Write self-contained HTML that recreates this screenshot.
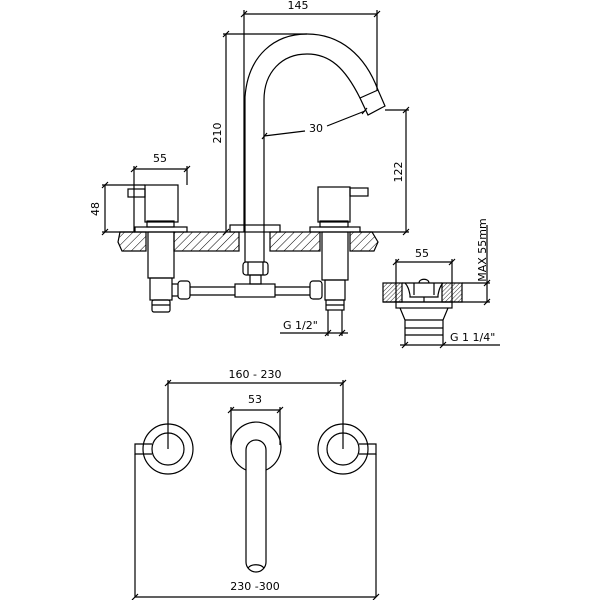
<!DOCTYPE html>
<html><head><style>
html,body{margin:0;padding:0;background:#fff;}
svg{display:block}
text{font-family:"DejaVu Sans","Liberation Sans",sans-serif;font-size:11px;fill:#000}
</style></head><body>
<svg width="600" height="600" viewBox="0 0 600 600" xmlns="http://www.w3.org/2000/svg">
<defs>
<pattern id="h" width="6" height="6" patternUnits="userSpaceOnUse" patternTransform="rotate(45)">
<line x1="0" y1="0" x2="0" y2="6" stroke="#000" stroke-width="1"/>
</pattern>
<pattern id="h2" width="3" height="3" patternUnits="userSpaceOnUse" patternTransform="rotate(45)">
<line x1="0" y1="0" x2="0" y2="3" stroke="#000" stroke-width="0.8"/>
</pattern>
</defs>
<g fill="none" stroke="#000" stroke-width="1.2">
<line x1="244" y1="14" x2="377" y2="14"/>
<line x1="244" y1="10" x2="244" y2="232"/>
<line x1="377" y1="10" x2="377" y2="90"/>
<line x1="226" y1="34" x2="226" y2="232"/>
<line x1="223" y1="34" x2="307" y2="34"/>
<path d="M245,232 L245,97 C248,55 275,34 307,34 C340,34 365,55 378,90"/>
<path d="M264,232 L264,100 C264,72 282,54 307,54 C330,54 345,68 360,98"/>
<path d="M360,98 L378,90 L385,106 L368,115 Z"/>
<line x1="264" y1="136" x2="305" y2="131"/>
<line x1="327" y1="126" x2="365" y2="111"/>
<line x1="385" y1="110" x2="409" y2="110"/>
<line x1="406" y1="110" x2="406" y2="232"/>
<line x1="360" y1="232" x2="409" y2="232"/>
<line x1="134" y1="169" x2="187" y2="169"/>
<line x1="134" y1="166" x2="134" y2="232"/>
<line x1="187" y1="166" x2="187" y2="185"/>
<rect x="145" y="185" width="33" height="37"/>
<rect x="128" y="189" width="17" height="8"/>
<rect x="147" y="221" width="27" height="6"/>
<rect x="135" y="227" width="52" height="5"/>
<line x1="105" y1="185" x2="105" y2="232"/>
<line x1="102" y1="185" x2="145" y2="185"/>
<line x1="102" y1="232" x2="135" y2="232"/>
<path d="M120,232 L146,232 L146,251 L122,251 L118,242 Z" fill="url(#h)"/>
<rect x="174" y="232" width="65" height="19" fill="url(#h)"/>
<rect x="270" y="232" width="50" height="19" fill="url(#h)"/>
<path d="M350,232 L372,232 L378,242 L374,251 L350,251 Z" fill="url(#h)"/>
<rect x="230" y="225" width="50" height="7"/>
<line x1="245" y1="232" x2="245" y2="262"/>
<line x1="264" y1="232" x2="264" y2="262"/>
<rect x="243" y="262" width="25" height="13" rx="3"/>
<line x1="248" y1="262" x2="248" y2="275"/><line x1="263" y1="262" x2="263" y2="275"/>
<rect x="250" y="275" width="11" height="9"/>
<rect x="235" y="284" width="40" height="13"/>
<line x1="190" y1="287" x2="235" y2="287"/><line x1="190" y1="295" x2="235" y2="295"/>
<line x1="275" y1="287" x2="310" y2="287"/><line x1="275" y1="295" x2="310" y2="295"/>
<rect x="178" y="281" width="12" height="18" rx="3"/>
<line x1="172" y1="284" x2="178" y2="284"/><line x1="172" y1="296" x2="178" y2="296"/>
<rect x="310" y="281" width="12" height="18" rx="3"/>
<rect x="148" y="232" width="26" height="46"/>
<rect x="150" y="278" width="22" height="22"/>
<rect x="152" y="300" width="18" height="12" rx="2"/>
<line x1="152" y1="305" x2="170" y2="305"/>
<rect x="318" y="187" width="32" height="35"/>
<rect x="350" y="188" width="18" height="8"/>
<rect x="320" y="221" width="28" height="6"/>
<rect x="310" y="227" width="50" height="5"/>
<rect x="322" y="232" width="26" height="48"/>
<rect x="325" y="280" width="20" height="20"/>
<rect x="326" y="300" width="18" height="10"/>
<line x1="326" y1="305" x2="344" y2="305"/>
<line x1="328" y1="310" x2="328" y2="336"/><line x1="342" y1="310" x2="342" y2="336"/>
<line x1="280" y1="333" x2="348" y2="333"/>
<line x1="396" y1="262" x2="452" y2="262"/>
<line x1="396" y1="259" x2="396" y2="302"/>
<line x1="452" y1="259" x2="452" y2="302"/>
<rect x="383" y="283" width="19" height="19" fill="url(#h2)"/>
<rect x="442" y="283" width="20" height="19" fill="url(#h2)"/>
<line x1="402" y1="283" x2="442" y2="283"/>
<path d="M405,283 C408,286 409,290 410,295 L410,297 L438,297 L438,295 C439,290 440,286 443,283"/>
<path d="M414,283 L414,295 M434,283 L434,295"/>
<path d="M419,283 C419,278 429,278 429,283"/>
<line x1="424" y1="297" x2="424" y2="302"/>
<line x1="383" y1="302" x2="490" y2="302"/>
<rect x="396" y="302" width="56" height="6"/>
<path d="M400,308 L405,320 L405,345 M448,308 L443,320 L443,345"/>
<line x1="405" y1="320" x2="443" y2="320"/>
<line x1="405" y1="328" x2="443" y2="328"/>
<line x1="405" y1="335" x2="443" y2="335"/>
<line x1="400" y1="345" x2="500" y2="345"/>
<line x1="462" y1="283" x2="490" y2="283"/>
<line x1="487" y1="225" x2="487" y2="302"/>
<line x1="168" y1="383" x2="343" y2="383"/>
<line x1="168" y1="380" x2="168" y2="449"/>
<line x1="343" y1="380" x2="343" y2="449"/>
<line x1="231" y1="410" x2="280" y2="410"/>
<line x1="231" y1="407" x2="231" y2="445"/>
<line x1="280" y1="407" x2="280" y2="445"/>
<circle cx="168" cy="449" r="25"/><circle cx="168" cy="449" r="16"/>
<circle cx="343" cy="449" r="25"/><circle cx="343" cy="449" r="16"/>
<path d="M152,444 L135,444 L135,454 L152,454"/>
<path d="M359,444 L376,444 L376,454 L359,454"/>
<path d="M246,470 A25,25 0 1 1 266,470"/>
<path d="M246,450 A10,10 0 0 1 266,450 L266,562 A10,10 0 0 1 246,562 Z"/>
<path d="M248,568 A9,6 0 0 1 264,568"/>
<line x1="135" y1="454" x2="135" y2="597"/>
<line x1="376" y1="454" x2="376" y2="597"/>
<line x1="135" y1="597" x2="376" y2="597"/>
<!-- ticks -->
<path d="M241,17 L247,11 M374,17 L380,11 M223,37 L229,31 M223,235 L229,229 M403,113 L409,107 M403,235 L409,229 M131,172 L137,166 M184,172 L190,166 M102,188 L108,182 M102,235 L108,229 M393,265 L399,259 M449,265 L455,259 M484,286 L490,280 M484,305 L490,299 M325,336 L331,330 M339,336 L345,330 M402,348 L408,342 M440,348 L446,342 M165,386 L171,380 M340,386 L346,380 M228,413 L234,407 M277,413 L283,407 M132,600 L138,594 M373,600 L379,594 M262,139 L267,133 M362,114 L367,108"/>
</g>
<text x="298" y="9" text-anchor="middle">145</text>
<text x="316" y="132" text-anchor="middle">30</text>
<text x="221" y="133" text-anchor="middle" transform="rotate(-90 221 133)">210</text>
<text x="402" y="172" text-anchor="middle" transform="rotate(-90 402 172)">122</text>
<text x="160" y="162" text-anchor="middle">55</text>
<text x="99" y="209" text-anchor="middle" transform="rotate(-90 99 209)">48</text>
<text x="422" y="257" text-anchor="middle">55</text>
<text x="486" y="250" text-anchor="middle" transform="rotate(-90 486 250)">MAX 55mm</text>
<text x="283" y="329">G 1/2"</text>
<text x="450" y="341">G 1 1/4"</text>
<text x="255" y="378" text-anchor="middle">160 - 230</text>
<text x="255" y="403" text-anchor="middle">53</text>
<text x="255" y="590" text-anchor="middle">230 -300</text>
</svg>
</body></html>
